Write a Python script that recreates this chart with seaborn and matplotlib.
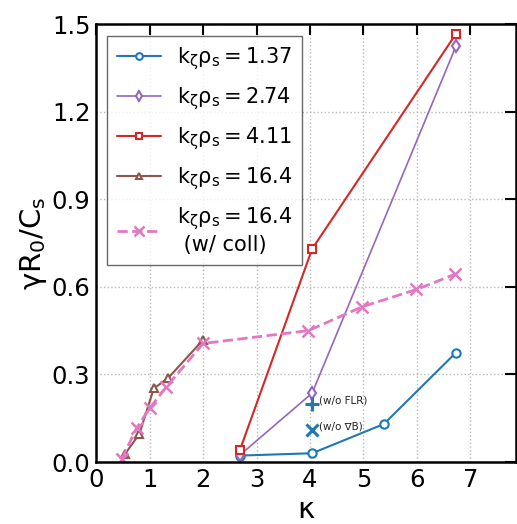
import matplotlib
matplotlib.use("Agg")
import matplotlib.pyplot as plt
import seaborn as sns
import pandas as pd

# growth rate vs kappa for several k_zeta rho_s
kappa_137 = [2.69, 4.04, 5.38, 6.73]
gamma_137 = [0.022, 0.030, 0.130, 0.375]

kappa_274 = [2.69, 4.04, 6.73]
gamma_274 = [0.024, 0.236, 1.425]

kappa_411 = [2.69, 4.04, 6.73]
gamma_411 = [0.041, 0.730, 1.467]

kappa_164 = [0.54, 0.81, 1.08, 1.35, 2.0]
gamma_164 = [0.027, 0.096, 0.252, 0.288, 0.418]

kappa_164c = [0.48, 0.76, 1.0, 1.31, 2.0, 3.97, 4.98, 5.99, 6.71]
gamma_164c = [0.010, 0.116, 0.184, 0.256, 0.406, 0.450, 0.532, 0.591, 0.643]

# single runs with physics removed, kζρs = 1.37 at κ = 4
kappa_noflr, gamma_noflr = 4.04, 0.200
kappa_nogradb, gamma_nogradb = 4.04, 0.110

labels = [r"$\mathrm{k_\zeta\rho_s} = 1.37$", r"$\mathrm{k_\zeta\rho_s} = 2.74$",
          r"$\mathrm{k_\zeta\rho_s} = 4.11$", r"$\mathrm{k_\zeta\rho_s} = 16.4$",
          "$\\mathrm{k_\\zeta\\rho_s} = 16.4$\n (w/ coll)"]

sns.set_style("white")
plt.rcParams["font.family"] = ["DejaVu Sans"]
plt.rcParams["mathtext.fontset"] = "dejavusans"
plt.rcParams["text.color"] = "black"
plt.rcParams["xtick.color"] = "black"
plt.rcParams["ytick.color"] = "black"
plt.rcParams["axes.labelcolor"] = "black"

pal = sns.color_palette("tab10")
blue, purple, red, brown, pink = pal[0], pal[4], pal[3], pal[5], pal[6]

fig = plt.figure(figsize=(5.17, 5.24), dpi=100)
ax = fig.add_axes([0.1857, 0.1183, 0.8123, 0.8357])

series = [
    (kappa_137, gamma_137, blue, "o", 6, "-", 1.5, labels[0]),
    (kappa_274, gamma_274, purple, "d", 6, "-", 1.2, labels[1]),
    (kappa_411, gamma_411, red, "s", 6, "-", 1.5, labels[2]),
    (kappa_164, gamma_164, brown, "^", 6, "-", 1.5, labels[3]),
    (kappa_164c, gamma_164c, pink, "x", 9, "--", 2.0, labels[4]),
]
for xs, ys, col, mk, ms, ls, lw, lab in series:
    df = pd.DataFrame({"kappa": xs, "gamma": ys})
    sns.lineplot(data=df, x="kappa", y="gamma", ax=ax, color=col, marker=mk,
                 markersize=ms, linestyle=ls, linewidth=lw, label=lab,
                 estimator=None, sort=False,
                 markerfacecolor="white" if mk != "x" else col,
                 markeredgecolor=col, markeredgewidth=1.5 if mk != "x" else 1.8)

ax.plot([kappa_noflr], [gamma_noflr], marker="+", color=blue, markersize=10,
        markeredgewidth=2.2, linestyle="none")
ax.plot([kappa_nogradb], [gamma_nogradb], marker="x", color=blue, markersize=8,
        markeredgewidth=2.2, linestyle="none")
ax.text(kappa_noflr + 0.12, gamma_noflr + 0.01, "(w/o FLR)", fontsize=7.5,
        va="center", ha="left", color="#222222")
ax.text(kappa_nogradb + 0.12, gamma_nogradb + 0.01, "(w/o ∇B)", fontsize=7.5,
        va="center", ha="left", color="#222222")

ax.set_xlim(0, 7.85)
ax.set_ylim(0, 1.5)
ax.set_xticks(range(0, 8))
ax.set_yticks([0.0, 0.3, 0.6, 0.9, 1.2, 1.5])
ax.set_yticklabels(["0.0", "0.3", "0.6", "0.9", "1.2", "1.5"])
ax.grid(True, linestyle=":", color="#b8b8b8", linewidth=1.0)
ax.tick_params(direction="in", length=8, width=1.5, labelsize=17.5,
               top=True, right=True, pad=4)
for sp in ax.spines.values():
    sp.set_visible(True)
    sp.set_color("black")
    sp.set_linewidth(1.8)

ax.set_xlabel("κ", fontsize=21, labelpad=3)
ax.set_ylabel("γR$_0$/C$_\\mathrm{s}$", fontsize=21, labelpad=2)

leg = ax.legend(loc="upper left", fontsize=15, frameon=True, fancybox=False,
                edgecolor="#444444", borderaxespad=0.55, handlelength=2.1,
                handletextpad=0.8, labelspacing=0.64, borderpad=0.45,
                markerscale=0.8)
leg.get_frame().set_linewidth(1.0)

fig.savefig("out.png", dpi=100)
